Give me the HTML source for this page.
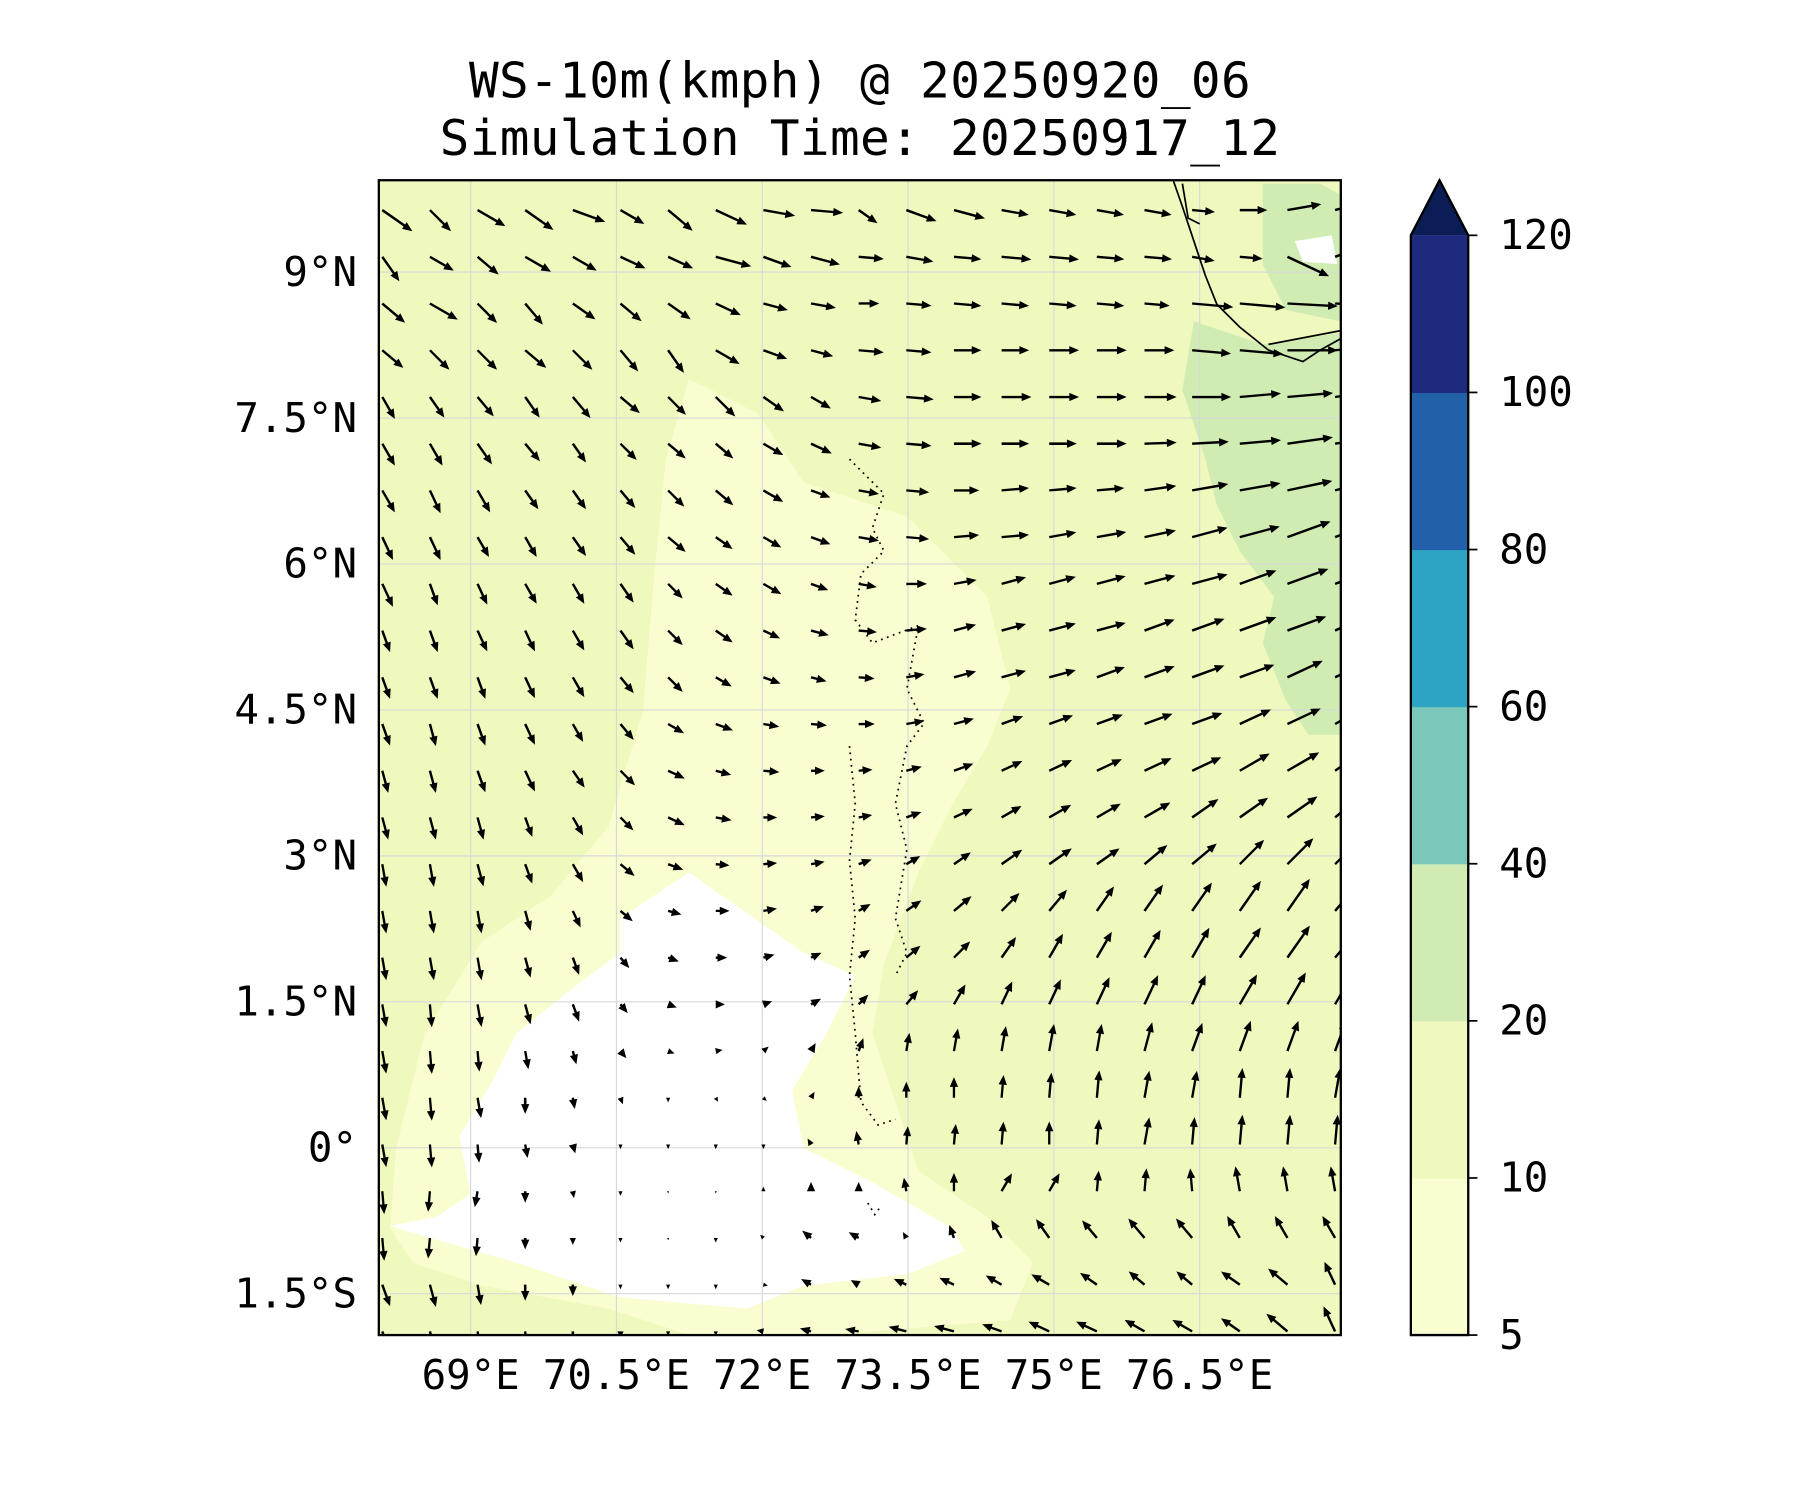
<!DOCTYPE html>
<html><head><meta charset="utf-8"><style>
html,body{margin:0;padding:0;background:#fff;}
svg{display:block;}
text{font-family:"DejaVu Sans Mono","Liberation Mono",monospace;fill:#000;}
</style></head><body>
<svg id="chart" width="1800" height="1500" viewBox="0 0 1568 1306.67" xmlns="http://www.w3.org/2000/svg">
<rect width="1568" height="1306.67" fill="#fff"/>
<text x="749" y="85" font-size="43" text-anchor="middle" textLength="681">WS-10m(kmph) @ 20250920_06</text>
<text x="749" y="135" font-size="43" text-anchor="middle" textLength="732">Simulation Time: 20250917_12</text>
<defs><clipPath id="mapclip"><rect x="330" y="157" width="838" height="1006"/></clipPath></defs>
<g clip-path="url(#mapclip)">
  <rect x="330" y="157" width="838" height="1006" fill="#eff8bd"/>
  <path fill="#fafdd0" d="M600,330 L660,360 L700,420 L790,450 L860,520 L880,600 L860,650 L830,700 L800,760 L770,840 L760,900 L780,960 L800,1020 L860,1060 L900,1100 L880,1150 L720,1163 L600,1163 L530,1140 L420,1120 L360,1100 L340,1070 L345,1000 L370,900 L420,820 L480,780 L530,720 L560,620 L570,500 L580,400 Z"/>
  <path fill="#ffffff" d="M540,800 L600,760 L700,830 L745,850 L720,900 L690,950 L700,1000 L760,1030 L830,1070 L840,1090 L790,1110 L700,1120 L650,1140 L540,1130 L450,1100 L380,1080 L340,1068 L380,1060 L410,1040 L400,990 L430,940 L450,900 L500,860 L540,830 Z"/>
  <path fill="#d0ecb3" d="M1040,280 L1100,300 L1168,290 L1168,640 L1140,640 L1120,610 L1100,560 L1110,520 L1080,480 L1060,440 L1050,400 L1030,340 Z"/>
  <path fill="#d0ecb3" d="M1100,160 L1150,160 L1168,170 L1168,280 L1120,270 L1100,230 Z"/>
  <path fill="#ffffff" d="M1128,210 L1160,205 L1165,230 L1135,228 Z"/>
  <g id="grid" stroke="#d8d8d8" stroke-width="1"></g>
  <path fill="none" stroke="#000" stroke-width="1.5" d="M1022,157 L1030,180 L1040,210 L1050,240 L1060,265 L1080,285 L1105,305 L1135,315 L1150,305 L1168,295 M1105,300 L1168,288 M1030,160 L1035,190 L1045,195"/>
  <path fill="none" stroke="#000" stroke-width="1.5" stroke-dasharray="1.5,4" d="M740,400 L770,430 L760,460 L770,480 L750,500 L745,540 L760,560 L800,545 L790,600 L805,630 L790,650 L780,700 L790,740 L780,800 L790,830 L780,850 M740,650 L745,700 L740,750 L745,800 L740,850 L745,900 L750,960 L765,980 L780,975 M756,1048 L762,1058 L768,1050"/>
  <g id="arrows"></g>
</g>
<rect x="330" y="157" width="838" height="1006" fill="none" stroke="#000" stroke-width="2"/>
<g id="xticks"></g>
<g id="yticks"></g>
<g id="cbar"></g>
</svg>
<script>
const lonTicks = [69, 70.5, 72, 73.5, 75, 76.5];
const lonLabels = ["69°E","70.5°E","72°E","73.5°E","75°E","76.5°E"];
const latTicks = [9, 7.5, 6, 4.5, 3, 1.5, 0, -1.5];
const latLabels = ["9°N","7.5°N","6°N","4.5°N","3°N","1.5°N","0°","1.5°S"];
const cbarLevels = [5, 10, 20, 40, 60, 80, 100, 120];
const cbarColors = ["#fafdd0","#eff8bd","#d0ecb3","#7bc8bb","#2ea4c5","#2261aa","#1c2b7e"];
const cbarExtendColor = "#0b1d55";
// wind direction (deg, 0=east, 90=north), rows top->bottom, 21 columns
const windDir = [
[-35,-45,-30,-35,-20,-30,-40,-25,-10,-5,-35,-20,-15,-10,-10,-10,-10,-5,0,10,15],
[-55,-30,-40,-30,-30,-25,-25,-15,-20,-15,-5,-10,-5,-5,-5,-5,-5,-10,-5,-25,20],
[-40,-30,-45,-50,-35,-40,-35,-25,-15,-10,0,-5,-5,-5,-5,-5,-5,-5,-5,-3,-3],
[-40,-45,-45,-40,-45,-50,-55,-30,-20,-15,-5,-5,0,0,0,0,0,-5,-5,0,5],
[-60,-55,-50,-55,-50,-40,-45,-45,-35,-30,-10,-5,0,0,0,0,0,0,5,5,8],
[-60,-60,-55,-50,-55,-45,-40,-40,-30,-25,-10,-5,0,0,0,0,2,3,5,8,10],
[-60,-65,-60,-55,-55,-50,-45,-40,-30,-20,-10,-5,0,5,5,5,8,10,10,12,15],
[-65,-65,-60,-60,-55,-50,-40,-35,-30,-20,-10,-5,5,5,10,10,12,15,15,20,20],
[-65,-70,-65,-60,-60,-55,-45,-35,-30,-20,-10,0,10,15,15,15,15,15,20,20,20],
[-70,-70,-65,-65,-60,-55,-45,-35,-25,-15,-5,5,15,15,15,15,20,20,20,20,25],
[-70,-70,-70,-65,-60,-50,-45,-30,-20,-15,-5,10,15,15,15,20,20,20,20,25,25],
[-70,-75,-70,-65,-60,-50,-30,-20,-10,-5,0,10,15,20,20,20,20,20,25,25,30],
[-75,-75,-70,-65,-55,-45,-25,-15,-5,0,5,15,20,25,25,25,25,25,30,30,35],
[-75,-75,-75,-70,-60,-45,-25,-10,0,5,10,20,25,30,30,30,30,35,35,35,40],
[-80,-80,-75,-70,-60,-40,-20,-5,5,10,20,30,35,35,35,35,40,40,45,45,45],
[-80,-80,-80,-75,-65,-40,-15,0,10,20,30,35,40,45,50,55,55,55,55,55,50],
[-80,-80,-80,-75,-70,-50,-20,0,15,25,35,40,45,55,60,60,60,60,55,55,50],
[-80,-85,-80,-75,-70,-50,-20,0,20,30,45,50,60,65,65,65,65,65,60,60,60],
[-80,-85,-85,-80,-75,-50,-20,10,40,60,70,80,80,80,80,80,75,70,70,70,70],
[-80,-85,-80,-90,-80,-70,-90,-60,-45,60,90,90,90,85,85,85,80,80,85,85,80],
[-80,-85,-85,-80,-75,-90,-90,-90,-90,120,100,85,85,85,90,85,80,85,85,85,85],
[-85,-95,-100,-90,-80,-90,-90,-90,90,90,90,100,90,60,60,85,85,95,100,100,100],
[-85,-95,-95,-90,-90,-90,-90,-90,135,140,150,120,110,120,125,130,130,130,120,120,120],
[-70,-75,-80,-90,-90,-90,-90,-90,-10,150,150,155,155,150,150,145,140,140,145,140,115],
[-70,-75,-80,-85,-90,-90,-90,-90,170,165,170,165,165,160,155,155,150,150,145,140,115]
];
// wind speed (kmph), same layout
const windSpd = [
[16,13,14,15,15,12,14,15,14,14,10,14,14,12,12,12,12,10,12,15,14],
[13,12,12,13,12,12,12,16,13,13,11,12,12,13,13,12,12,10,10,20,12],
[13,14,12,12,12,12,12,12,11,11,9,11,12,12,12,12,11,18,20,22,24],
[12,12,12,12,12,12,12,12,11,10,11,11,12,12,13,13,13,17,19,22,24],
[11,11,11,11,12,11,11,12,11,10,10,12,12,13,13,13,14,17,18,20,22],
[11,11,11,10,10,10,10,10,10,10,10,11,12,12,12,13,14,16,18,20,22],
[11,11,11,10,10,10,10,10,10,9,9,10,11,12,12,12,14,16,18,20,22],
[11,11,10,10,10,10,10,9,9,9,9,10,11,12,12,13,14,16,18,20,21],
[11,10,10,10,10,10,9,9,9,8,8,9,10,11,12,13,14,16,17,19,20],
[10,10,10,10,10,10,9,9,8,8,8,9,10,11,12,13,14,15,17,18,19],
[10,10,10,10,10,9,9,8,8,7,7,8,10,11,12,13,14,15,16,17,18],
[10,10,10,10,9,9,8,8,7,7,7,8,9,10,11,12,13,14,15,16,17],
[10,10,10,10,9,9,8,7,7,6,6,7,9,10,11,12,13,14,15,16,17],
[10,10,10,9,9,8,8,7,6,6,6,7,9,10,11,12,13,14,15,16,17],
[10,10,10,9,9,8,7,6,6,6,6,7,9,11,12,12,13,14,15,16,17],
[10,10,10,9,8,7,6,6,6,6,6,8,10,11,12,13,14,15,16,17,18],
[10,10,10,9,8,6,5,5,5,5,6,8,10,11,12,13,14,15,16,17,18],
[10,10,10,9,8,5,4,4,4,5,6,8,10,11,12,13,14,14,15,16,16],
[10,10,9,8,6,4,3,3,3,4,6,8,10,11,12,12,13,13,14,14,14],
[10,10,9,7,5,3,2,2,2,3,5,7,9,10,11,12,12,12,13,13,13],
[10,10,8,6,4,2,2,2,2,3,6,8,9,10,10,11,12,12,13,13,13],
[10,9,7,5,3,2,1,1,2,4,4,6,8,9,9,9,10,10,11,11,11],
[10,9,8,5,3,2,1,2,2,5,5,3,6,9,10,10,11,11,11,11,11],
[10,10,9,7,5,2,2,2,2,5,4,6,7,8,9,9,9,9,10,11,11],
[10,10,9,8,6,3,2,2,3,5,6,8,9,9,10,10,10,10,10,12,12]
];
const NS="http://www.w3.org/2000/svg";
const X0=330,X1=1168,Y0=157,Y1=1163;
function lonX(lon){return 410+(lon-69)*84.67;}
function latY(lat){return 237-(lat-9)*84.76;}
function mk(tag,attrs,parent){const e=document.createElementNS(NS,tag);for(const k in attrs)e.setAttribute(k,attrs[k]);parent.appendChild(e);return e;}
const grid=document.getElementById('grid');
lonTicks.forEach((lon)=>{const l=mk('line',{x1:lonX(lon),x2:lonX(lon),y1:Y0,y2:Y1},grid);

});
latTicks.forEach((lat)=>{const l=mk('line',{x1:X0,x2:X1,y1:latY(lat),y2:latY(lat)},grid);

});
const xt=document.getElementById('xticks');
lonTicks.forEach((lon,i)=>{const t=mk('text',{x:lonX(lon),y:1210,'font-size':35.5,'text-anchor':'middle'},xt);t.textContent=lonLabels[i];

});
const yt=document.getElementById('yticks');
latTicks.forEach((lat,i)=>{const t=mk('text',{x:311,y:latY(lat)+12,'font-size':35.5,'text-anchor':'end'},yt);t.textContent=latLabels[i];

});
// arrows
const ar=document.getElementById('arrows');
const gx0=333,gdx=41.5,gy0=183,gdy=40.7,lenScale=2.0;
windDir.forEach((row,r)=>{row.forEach((d,c)=>{
  const L=windSpd[r][c]*lenScale;const x=gx0+c*gdx,y=gy0+r*gdy;
  const hl=Math.min(8.5,L),hw=Math.min(3.6,L*0.45),sw=1.05;
  const sl=Math.max(0,L-hl);
  const pts=[[0,-sw],[sl,-sw],[sl,-hw],[L,0],[sl,hw],[sl,sw],[0,sw]];
  const a=-d*Math.PI/180,ca=Math.cos(a),sa=Math.sin(a);
  const p=mk('polygon',{points:pts.map(q=>(x+q[0]*ca-q[1]*sa).toFixed(1)+','+(y+q[0]*sa+q[1]*ca).toFixed(1)).join(' '),fill:'#000'},ar);
  
  
});});
// colorbar
const cb=document.getElementById('cbar');
const cx0=1229,cw=50,ctop=205,cbot=1163,seg=(cbot-ctop)/(cbarLevels.length-1);
cbarColors.forEach((col,i)=>{const r=mk('rect',{x:cx0,y:cbot-(i+1)*seg,width:cw,height:seg+0.5,fill:col},cb);

});
const tri=mk('polygon',{points:`${cx0},${ctop} ${cx0+cw/2},157 ${cx0+cw},${ctop}`,fill:cbarExtendColor},cb);


const outline=mk('path',{d:`M${cx0},${cbot} L${cx0},${ctop} L${cx0+cw/2},157 L${cx0+cw},${ctop} L${cx0+cw},${cbot} Z`,fill:'none',stroke:'#000','stroke-width':2},cb);


cbarLevels.forEach((v,i)=>{const y=cbot-i*seg;
  const tk=mk('line',{x1:cx0+cw,x2:cx0+cw+8,y1:y,y2:y,stroke:'#000','stroke-width':1.5},cb);
  
  
  const t=mk('text',{x:1306,y:y+12,'font-size':35.5},cb);t.textContent=v;
  
  
});
</script>
</body></html>
